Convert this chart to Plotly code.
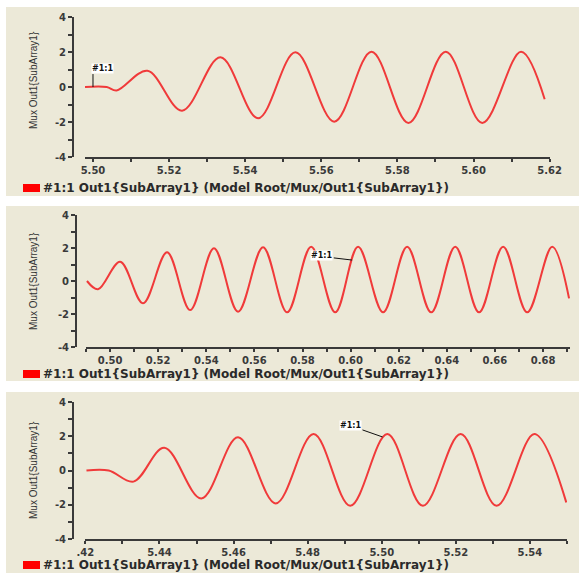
import plotly.graph_objects as go

W, H = 579, 573

# ---------------- data (start, extrema, end) ----------------
t1 = [5.4979, 5.5036, 5.5062, 5.5143, 5.5234, 5.5335, 5.5434, 5.5532, 5.5634,
      5.5732, 5.5829, 5.5927, 5.6023, 5.6125, 5.6187]
v1 = [0.0, 0.0, -0.2, 0.93, -1.35, 1.7, -1.79, 1.98, -1.98,
      2.02, -2.05, 2.02, -2.05, 2.02, -0.7]

t2 = [0.4904, 0.4950, 0.5042, 0.5137, 0.5237, 0.5333, 0.5432, 0.5532, 0.5636,
      0.5736, 0.5836, 0.5936, 0.6031, 0.6135, 0.6235, 0.6335, 0.6435, 0.6534,
      0.6634, 0.6734, 0.6838, 0.6908]
v2 = [0.0, -0.5, 1.17, -1.35, 1.74, -1.76, 1.98, -1.86, 2.04,
      -1.9, 2.08, -1.9, 2.08, -1.9, 2.08, -1.9, 2.08, -1.9,
      2.08, -1.9, 2.08, -1.05]

t3 = [5.4203, 5.4263, 5.4330, 5.4413, 5.4513, 5.4612, 5.4714, 5.4816, 5.4915,
      5.5015, 5.5111, 5.5213, 5.5310, 5.5412, 5.5498]
v3 = [0.0, 0.0, -0.65, 1.33, -1.63, 1.94, -1.92, 2.13, -2.06,
      2.13, -2.06, 2.13, -2.06, 2.13, -1.86]

xticks1 = [5.50, 5.51, 5.52, 5.53, 5.54, 5.55, 5.56, 5.57, 5.58, 5.59, 5.60, 5.61, 5.62]
xlabels1 = ["5.50", "", "5.52", "", "5.54", "", "5.56", "", "5.58", "", "5.60", "", "5.62"]
xticks2 = [0.49, 0.50, 0.51, 0.52, 0.53, 0.54, 0.55, 0.56, 0.57, 0.58, 0.59,
           0.60, 0.61, 0.62, 0.63, 0.64, 0.65, 0.66, 0.67, 0.68, 0.69]
xlabels2 = ["", "0.50", "", "0.52", "", "0.54", "", "0.56", "", "0.58", "",
            "0.60", "", "0.62", "", "0.64", "", "0.66", "", "0.68", ""]
xticks3 = [5.42, 5.43, 5.44, 5.45, 5.46, 5.47, 5.48, 5.49, 5.50, 5.51, 5.52, 5.53, 5.54, 5.55]
xlabels3 = [".42", "", "5.44", "", "5.46", "", "5.48", "", "5.50", "", "5.52", "", "5.54", ""]
yticks = [-4, -3, -2, -1, 0, 1, 2, 3, 4]
ylabels = ["-4", "", "-2", "", "0", "", "2", "", "4"]

ytitle = "Mux Out1{SubArray1}"
legend_text = "#1:1 Out1{SubArray1} (Model Root/Mux/Out1{SubArray1})"
marker_text = "#1:1"

# ---------------- layout helpers ----------------
def px_x(p):
    return p / W

def px_y(p):
    return 1 - p / H

BG = "#ECE9D8"
LINE = "#f03a3a"
AX = "#3a3a3a"
FONT = "DejaVu Sans"
TICKFONT = dict(family="DejaVu Sans", size=10, color="#3a3a3a", weight="bold")

panels = [
    dict(xd=(85, 550), yd=(17, 157), yax=73, xr=(5.4979, 5.6201), bg=(7, 196), leg=188, yt=80,
         t=t1, v=v1, tv=xticks1, tt=xlabels1),
    dict(xd=(86, 570), yd=(215, 347), yax=76, xr=(0.4900, 0.6912), bg=(206, 381), leg=374, yt=281,
         t=t2, v=v2, tv=xticks2, tt=xlabels2),
    dict(xd=(85, 567), yd=(402, 539), yax=73, xr=(5.4199, 5.5500), bg=(392, 573), leg=565, yt=470,
         t=t3, v=v3, tv=xticks3, tt=xlabels3),
]

fig = go.Figure()
shapes = []
annotations = []
layout_axes = {}

for i, p in enumerate(panels, start=1):
    xs = "" if i == 1 else str(i)
    xname, yname = "x" + xs, "y" + xs
    fig.add_trace(go.Scatter(x=p["t"], y=p["v"], mode="lines", xaxis=xname, yaxis=yname,
                             line=dict(color=LINE, width=2, shape="spline", smoothing=1.0),
                             showlegend=False, hoverinfo="skip"))
    layout_axes["xaxis" + xs] = dict(
        domain=[px_x(p["xd"][0]), px_x(p["xd"][1])], range=list(p["xr"]), anchor=yname,
        automargin=False,
        showgrid=False, zeroline=False, showline=True, linecolor=AX, linewidth=2,
        tickmode="array", tickvals=p["tv"], ticktext=p["tt"], ticks="outside",
        ticklen=3, tickwidth=2, tickcolor=AX, tickfont=TICKFONT)
    layout_axes["yaxis" + xs] = dict(
        domain=[px_y(p["yd"][1]), px_y(p["yd"][0])], range=[-4, 4], anchor="free",
        position=px_x(p["yax"]), automargin=False,
        showgrid=False, zeroline=False, showline=True,
        linecolor=AX, linewidth=2, tickmode="array", tickvals=yticks, ticktext=ylabels,
        ticks="outside", ticklen=4, tickwidth=1.5, tickcolor=AX, tickfont=TICKFONT)
    # panel background
    shapes.append(dict(type="rect", xref="paper", yref="paper", x0=px_x(6), x1=1.0,
                       y0=px_y(p["bg"][1]), y1=px_y(p["bg"][0]),
                       fillcolor=BG, line=dict(width=0), layer="below"))
    # legend swatch + text
    shapes.append(dict(type="rect", xref="paper", yref="paper",
                       x0=px_x(23), x1=px_x(40), y0=px_y(p["leg"] + 4), y1=px_y(p["leg"] - 4),
                       fillcolor="#ff0000", line=dict(width=0)))
    annotations.append(dict(xref="paper", yref="paper", x=px_x(41), y=px_y(p["leg"]),
                            xanchor="left", yanchor="middle", showarrow=False,
                            text=legend_text,
                            font=dict(family=FONT, size=12, color="#2a2a2a", weight="bold")))
    # y title
    annotations.append(dict(xref="paper", yref="paper", x=px_x(33), y=px_y(p["yt"]),
                            xanchor="center", yanchor="middle", showarrow=False, textangle=-90,
                            text=ytitle, font=dict(family="Liberation Sans Narrow, Liberation Sans",
                                                   size=10, color="#333333")))

# data-marker labels ("#1:1")
box_font = dict(family=FONT, size=8, color="#111111", weight="bold")
shapes.append(dict(type="line", xref="x", yref="y", x0=5.5, x1=5.5, y0=0.0, y1=0.74,
                   line=dict(color="#111111", width=1)))
annotations.append(dict(xref="x", yref="y", x=5.4995, y=0.74, xanchor="left", yanchor="bottom",
                        showarrow=False, text=marker_text, bgcolor="white", borderpad=0,
                        font=box_font))
shapes.append(dict(type="line", xref="x2", yref="y2", x0=0.5930, x1=0.6006, y0=1.4, y1=1.27,
                   line=dict(color="#111111", width=1)))
annotations.append(dict(xref="x2", yref="y2", x=0.5925, y=1.52, xanchor="right", yanchor="middle",
                        showarrow=False, text=marker_text, bgcolor="white", borderpad=0,
                        font=box_font))
shapes.append(dict(type="line", xref="x3", yref="y3", x0=5.4948, x1=5.5002, y0=2.37, y1=1.96,
                   line=dict(color="#111111", width=1)))
annotations.append(dict(xref="x3", yref="y3", x=5.4948, y=2.6, xanchor="right", yanchor="middle",
                        showarrow=False, text=marker_text, bgcolor="white", borderpad=0,
                        font=box_font))

fig.update_layout(width=W, height=H, margin=dict(l=0, r=0, t=0, b=0, pad=0), autosize=False,
                  paper_bgcolor="white", plot_bgcolor="rgba(0,0,0,0)",
                  shapes=shapes, annotations=annotations, showlegend=False, **layout_axes)

fig.write_html("out.html", config={"displayModeBar": False},
               post_script="document.body.style.margin='0';document.body.style.overflow='hidden';")
